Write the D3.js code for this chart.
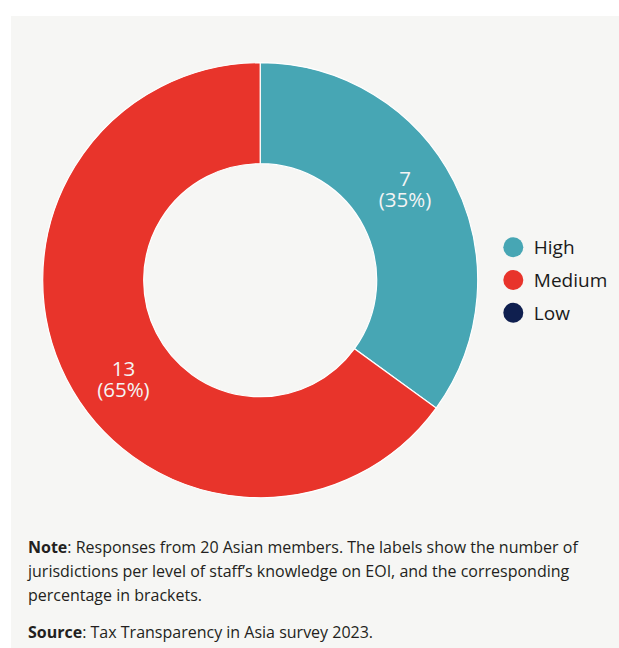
<!DOCTYPE html>
<html>
<head>
<meta charset="utf-8">
<script src="https://cdn.jsdelivr.net/npm/d3@7"></script>
<style>
  html, body { margin: 0; padding: 0; background: #ffffff; }
  svg { display: block; }
</style>
</head>
<body>
<svg id="chart" width="619" height="648"></svg>
<script>
// Staff knowledge on EOI, responses from 20 Asian members
const categories = ["High", "Medium", "Low"];
const counts = [7, 13, 0];
const colors = ["#47a6b4", "#e8342b", "#0f1f4f"];

const noteLines = [
  [{ t: "Note", b: true }, { t: ": Responses from 20 Asian members. The labels show the number of" }],
  [{ t: "jurisdictions per level of staff\u2019s knowledge on EOI, and the corresponding" }],
  [{ t: "percentage in brackets." }]
];
const sourceLine = [{ t: "Source", b: true }, { t: ": Tax Transparency in Asia survey 2023." }];

const W = 619, H = 648;
const svg = d3.select("#chart");
const FONT = "'Open Sans', 'Noto Sans', sans-serif";

// panel background
svg.append("rect")
  .attr("x", 11).attr("y", 16)
  .attr("width", W - 11).attr("height", H - 16)
  .attr("fill", "#f6f6f4");

const cx = 260.2, cy = 280.2;
const outerR = 217.5, innerR = 116.5;

const total = d3.sum(counts);
const data = categories.map((c, i) => ({ category: c, value: counts[i], color: colors[i] }));

const pie = d3.pie().sort(null).value(d => d.value);
const arc = d3.arc().innerRadius(innerR).outerRadius(outerR);

const g = svg.append("g").attr("transform", `translate(${cx},${cy})`);

const arcs = pie(data).filter(d => d.data.value > 0);

g.selectAll("path.slice")
  .data(arcs)
  .join("path")
  .attr("class", "slice")
  .attr("d", arc)
  .attr("fill", d => d.data.color)
  .attr("stroke", "#ffffff")
  .attr("stroke-width", 1.2)
  .attr("stroke-linejoin", "miter");

// value labels, nudged from the ring centroid
const labelShift = { High: [-4, -15], Medium: [12, 23] };
const fmtPct = v => `(${Math.round(v / total * 100)}%)`;

const lbl = g.selectAll("g.val")
  .data(arcs)
  .join("g")
  .attr("class", "val")
  .attr("transform", d => {
    const [x, y] = arc.centroid(d);
    const s = labelShift[d.data.category] || [0, 0];
    return `translate(${x + s[0]},${y + s[1]})`;
  });
[["count", -3, d => d.data.value], ["pct", 18, d => fmtPct(d.data.value)]].forEach(([cls, y, fn]) => {
  lbl.append("text")
    .attr("class", cls)
    .attr("y", y)
    .attr("font-family", FONT)
    .attr("font-size", 20.5)
    .attr("fill", "#f4f4f4")
    .attr("text-anchor", "middle")
    .text(fn);
});

// legend
const legendY = d3.scalePoint().domain(categories).range([247.3, 312.7]);
const legend = svg.append("g");
const item = legend.selectAll("g")
  .data(data)
  .join("g")
  .attr("transform", d => `translate(513.3,${legendY(d.category)})`);
item.append("circle").attr("r", 10).attr("fill", d => d.color);
item.append("text")
  .attr("x", 20.5).attr("y", 7)
  .attr("font-family", FONT)
  .attr("font-size", 19)
  .attr("fill", "#1a1a1a")
  .text(d => d.category);

// note and source
function writeLine(parts, y) {
  const t = svg.append("text")
    .attr("x", 28).attr("y", y)
    .attr("font-family", FONT)
    .attr("font-size", 16)
    .attr("fill", "#231f20");
  parts.forEach(p => {
    t.append("tspan").attr("font-weight", p.b ? 700 : 400).text(p.t);
  });
}
noteLines.forEach((ln, i) => writeLine(ln, 553 + i * 24));
writeLine(sourceLine, 638);
</script>
</body>
</html>
